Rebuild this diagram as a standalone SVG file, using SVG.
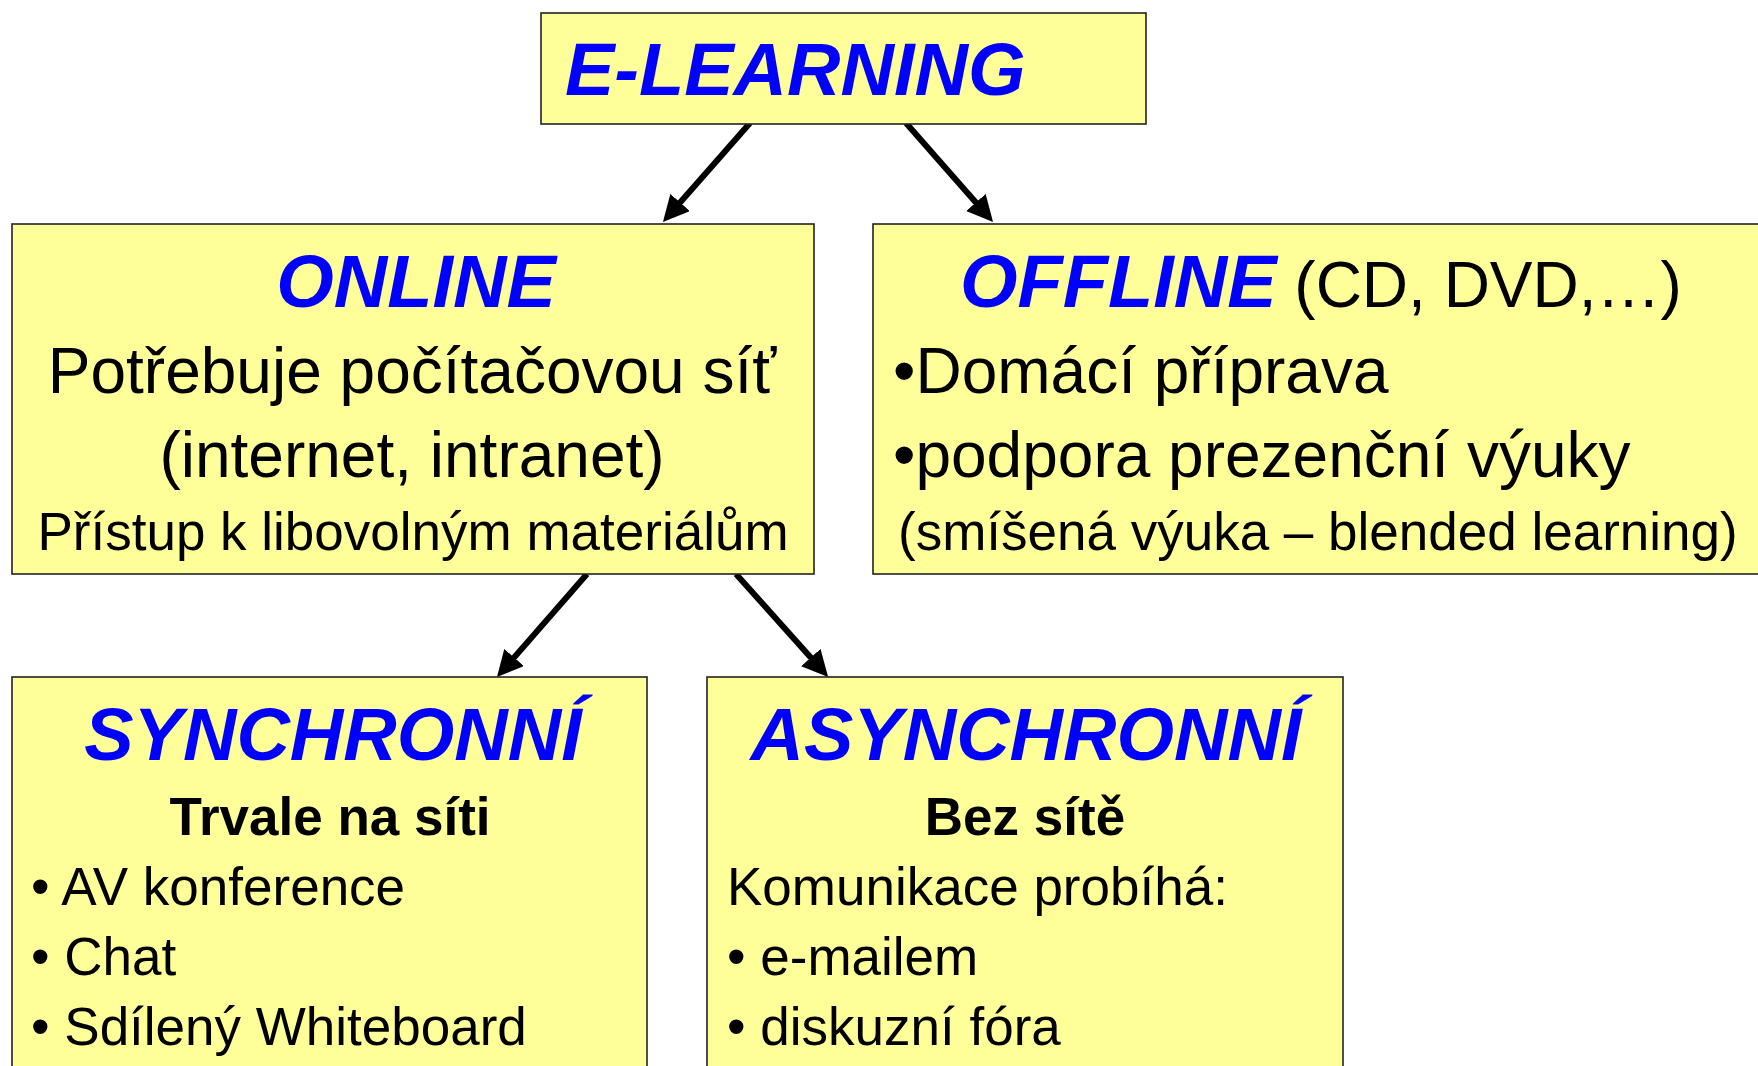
<svg xmlns="http://www.w3.org/2000/svg" width="1758" height="1066" viewBox="0 0 1758 1066">
<style>
.box{fill:#FFFF99;stroke:#222;stroke-width:1.6}
text{font-family:"Liberation Sans",Arial,sans-serif;fill:#000}
.title{font-size:74px;font-weight:bold;font-style:italic;fill:#0000FF}
.l64{font-size:64px}
.l53{font-size:53px}
.b53{font-size:53px;font-weight:bold}
.mid{text-anchor:middle}
.conn{stroke:#000;stroke-width:6;fill:none;marker-end:url(#ah)}
</style>
<defs>
<marker id="ah" markerUnits="userSpaceOnUse" markerWidth="26" markerHeight="26" refX="12" refY="13" orient="auto" viewBox="0 0 26 26">
<path d="M0,0 L26,13 L0,26 z" fill="#000"/>
</marker>
</defs>
<rect width="1758" height="1066" fill="#fff"/>
<g id="connectors">
<line class="conn" x1="750" y1="123" x2="672.2" y2="211.5"/>
<line class="conn" x1="906" y1="123" x2="983.8" y2="211.5"/>
<line class="conn" x1="587" y1="574" x2="506.2" y2="666.5"/>
<line class="conn" x1="736" y1="574" x2="818.8" y2="666.5"/>
</g>
<g id="elearning">
<rect class="box" x="541" y="13" width="605" height="111"/>
<text class="title" x="565" y="95">E-LEARNING</text>
</g>
<g id="online">
<rect class="box" x="12" y="224" width="802" height="350"/>
<text class="title mid" x="416" y="307">ONLINE</text>
<text class="l64 mid" x="412" y="393">Potřebuje počítačovou síť</text>
<text class="l64 mid" x="412" y="477">(internet, intranet)</text>
<text class="l53 mid" x="413" y="550">Přístup k libovolným materiálům</text>
</g>
<g id="offline">
<rect class="box" x="873" y="224" width="900" height="350"/>
<text x="960" y="307"><tspan class="title">OFFLINE</tspan><tspan class="l64"> (CD, DVD,…)</tspan></text>
<text class="l64" x="893" y="393">•Domácí příprava</text>
<text class="l64" x="893" y="477">•podpora prezenční výuky</text>
<text class="l53" x="898" y="550">(smíšená výuka – blended learning)</text>
</g>
<g id="synchronni">
<rect class="box" x="12" y="677" width="635" height="400"/>
<text class="title mid" x="333" y="760">SYNCHRONNÍ</text>
<text class="b53 mid" x="330" y="835">Trvale na síti</text>
<text class="l53" x="31" y="905">• AV konference</text>
<text class="l53" x="31" y="975">• Chat</text>
<text class="l53" x="31" y="1045">• Sdílený Whiteboard</text>
</g>
<g id="asynchronni">
<rect class="box" x="707" y="677" width="636" height="400"/>
<text class="title mid" x="1026" y="760">ASYNCHRONNÍ</text>
<text class="b53 mid" x="1025" y="835">Bez sítě</text>
<text class="l53" x="727" y="905">Komunikace probíhá:</text>
<text class="l53" x="727" y="975">• e-mailem</text>
<text class="l53" x="727" y="1045">• diskuzní fóra</text>
</g>
</svg>
